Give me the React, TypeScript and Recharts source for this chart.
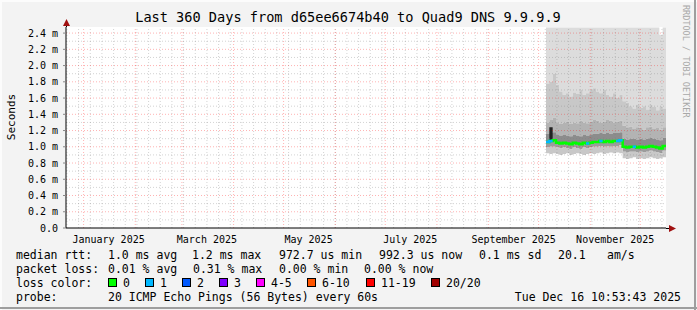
import React from 'react';
import { ComposedChart, Area, Line, XAxis, YAxis, ReferenceLine, CartesianGrid } from 'recharts';

// days since the graph start (Dec 21 2024 10:53)
const DAYS = [288, 290, 292, 294, 296, 298, 300, 302, 304, 306, 308, 310, 312, 314, 316, 318, 320, 322, 324, 326, 328, 330, 332, 334, 336, 338, 340, 342, 344, 346, 348, 350, 352, 354, 356, 358, 360];

// values in ms
const MEDIAN = [1.06, 1.07, 1.08, 1.05, 1.04, 1.05, 1.04, 1.03, 1.05, 1.04, 1.03, 1.05, 1.04, 1.05, 1.06, 1.06, 1.07, 1.06, 1.07, 1.06, 1.07, 1.07, 1.08, 1.0, 0.99, 1.0, 1.0, 0.99, 1.0, 0.99, 1.0, 1.01, 1.0, 0.99, 0.98, 1.01, 1.01];
const LOSS = [1, 1, 0, 0, 0, 0, 0, 0, 0, 0, 0, 0, 1, 0, 0, 0, 1, 0, 0, 0, 0, 1, 1, 0, 0, 0, 1, 0, 0, 0, 0, 0, 0, 0, 0, 0, 0];
const LO = [0.92, 0.91, 0.92, 0.91, 0.9, 0.91, 0.92, 0.9, 0.91, 0.92, 0.91, 0.9, 0.91, 0.92, 0.91, 0.92, 0.93, 0.91, 0.92, 0.93, 0.92, 0.93, 0.92, 0.86, 0.85, 0.86, 0.87, 0.85, 0.86, 0.85, 0.86, 0.87, 0.86, 0.85, 0.86, 0.87, 0.87];
const D1 = [0.99, 1.0, 1.0, 0.99, 0.98, 0.99, 0.98, 0.97, 0.99, 0.98, 0.97, 0.99, 0.98, 0.99, 1.0, 1.0, 1.01, 1.0, 1.01, 1.0, 1.01, 1.01, 1.02, 0.94, 0.93, 0.94, 0.94, 0.93, 0.94, 0.93, 0.94, 0.95, 0.94, 0.93, 0.92, 0.95, 0.95];
const U1 = [1.16, 1.17, 1.18, 1.15, 1.14, 1.15, 1.14, 1.13, 1.15, 1.14, 1.13, 1.15, 1.14, 1.15, 1.16, 1.16, 1.17, 1.16, 1.17, 1.16, 1.17, 1.17, 1.18, 1.1, 1.09, 1.1, 1.1, 1.09, 1.1, 1.09, 1.1, 1.11, 1.1, 1.09, 1.08, 1.11, 1.11];
const U2 = [1.3, 1.33, 1.36, 1.3, 1.28, 1.3, 1.31, 1.28, 1.3, 1.29, 1.32, 1.3, 1.29, 1.31, 1.33, 1.32, 1.3, 1.31, 1.33, 1.32, 1.3, 1.31, 1.32, 1.26, 1.24, 1.25, 1.22, 1.24, 1.23, 1.21, 1.24, 1.25, 1.22, 1.23, 1.21, 1.24, 1.24];
const U3 = [1.78, 1.8, 1.9, 1.76, 1.68, 1.64, 1.66, 1.62, 1.67, 1.65, 1.7, 1.64, 1.66, 1.7, 1.72, 1.68, 1.66, 1.7, 1.64, 1.62, 1.66, 1.6, 1.64, 1.56, 1.54, 1.5, 1.47, 1.52, 1.48, 1.5, 1.46, 1.52, 1.49, 1.45, 1.5, 1.47, 1.47];
const HI = [2.47, 2.47, 2.47, 2.47, 2.47, 2.47, 2.47, 2.47, 2.47, 2.47, 2.47, 2.47, 2.47, 2.47, 2.47, 2.47, 2.47, 2.47, 2.47, 2.47, 2.47, 2.47, 2.47, 2.47, 2.47, 2.47, 2.47, 2.47, 2.47, 2.47, 2.47, 2.47, 2.47, 2.47, 2.38, 2.47, 2.47];
const SPIKE = [null, 1.24, null, null, null, null, null, null, null, null, null, null, null, null, null, null, null, null, null, null, null, null, null, null, null, null, null, null, null, null, null, null, null, null, null, null, null];

const Y_TICKS = [0, 0.2, 0.4, 0.6, 0.8, 1.0, 1.2, 1.4, 1.6, 1.8, 2.0, 2.2, 2.4];
const Y_MINOR = [0.1, 0.3, 0.5, 0.7, 0.9, 1.1, 1.3, 1.5, 1.7, 1.9, 2.1, 2.3];
const MONTH_STARTS = [10.55, 41.55, 69.55, 100.55, 130.55, 161.55, 191.55, 222.55, 253.55, 283.55, 314.55, 344.55];
const LABEL_DAYS = [25.55, 84.55, 145.55, 206.55, 268.55, 329.55];
const LABELS = ['January 2025', 'March 2025', 'May 2025', 'July 2025', 'September 2025', 'November 2025'];
const WEEKS = Array.from({ length: 52 }, (_, k) => 0.55 + 7 * k);

const LOSS_COLORS = [
  { label: '0', color: '#00ff00', x: 108 },
  { label: '1', color: '#00b8ff', x: 145 },
  { label: '2', color: '#0059ff', x: 182 },
  { label: '3', color: '#7e00ff', x: 219 },
  { label: '4-5', color: '#ff00ff', x: 256 },
  { label: '6-10', color: '#ff5500', x: 307 },
  { label: '11-19', color: '#ff0000', x: 366 },
  { label: '20/20', color: '#a10000', x: 431 },
];

const FONT = '"DejaVu Sans Mono", monospace';
const minorStroke = 'rgba(128,128,128,0.35)';
const majorStroke = 'rgba(255,0,0,0.3)';

const App = () => {
  const rows = DAYS.map((day, i) => ({
    day,
    lo: [LO[i], D1[i]],
    core1: [D1[i], MEDIAN[i]],
    core2: [MEDIAN[i], U1[i]],
    mid: [U1[i], U2[i]],
    light: [U2[i], U3[i]],
    top: [U3[i], HI[i]],
    spike: [MEDIAN[i], SPIKE[i] ?? MEDIAN[i]],
    med: MEDIAN[i],
    medLoss: LOSS[i] ? MEDIAN[i] : i > 0 && LOSS[i - 1] ? MEDIAN[i - 1] : null,
  }));

  const txt = { fontFamily: FONT, fontSize: 11.5, fill: '#000' };

  return (
    <div style={{ position: 'absolute', left: 0, top: 0, width: 697, height: 310, background: '#f3f3f3' }}>
      <ComposedChart width={697} height={310} data={rows} margin={{ top: 27, right: 31, bottom: 62, left: 0 }}>
        <CartesianGrid fill="#fff" horizontal={false} vertical={false} />
        <XAxis
          type="number"
          dataKey="day"
          domain={[0, 360]}
          ticks={LABEL_DAYS}
          tickFormatter={(v) => LABELS[LABEL_DAYS.indexOf(v)]}
          tickLine={false}
          tickSize={6}
          tickMargin={2}
          height={20}
          axisLine={{ stroke: '#000' }}
          tick={{ fontFamily: FONT, fontSize: 10, fill: '#000' }}
          interval={0}
        />
        <YAxis
          type="number"
          domain={[0, 2.475]}
          allowDataOverflow
          ticks={Y_TICKS}
          tickFormatter={(v) => (v === 0 ? '0.0' : `${v.toFixed(1)} m`)}
          width={66}
          tickSize={3}
          tickMargin={5}
          tickLine={{ stroke: '#888' }}
          axisLine={{ stroke: '#000' }}
          tick={{ fontFamily: FONT, fontSize: 10, fill: '#000' }}
          interval={0}
        />
        <Area type="stepAfter" dataKey="top" fill="#dcdcdc" fillOpacity={1} stroke="none" isAnimationActive={false} />
        <Area type="stepAfter" dataKey="light" fill="#c8c8c8" fillOpacity={1} stroke="none" isAnimationActive={false} />
        <Area type="stepAfter" dataKey="mid" fill="#b3b3b3" fillOpacity={1} stroke="none" isAnimationActive={false} />
        <Area type="stepAfter" dataKey="core2" fill="#8c8c8c" fillOpacity={1} stroke="none" isAnimationActive={false} />
        <Area type="stepAfter" dataKey="core1" fill="#9c9c9c" fillOpacity={1} stroke="none" isAnimationActive={false} />
        <Area type="stepAfter" dataKey="lo" fill="#c8c8c8" fillOpacity={1} stroke="none" isAnimationActive={false} />
        <Area type="stepAfter" dataKey="spike" fill="#222" fillOpacity={1} stroke="none" isAnimationActive={false} />

        {WEEKS.map((d) => (
          <ReferenceLine key={'w' + d} x={d} stroke={minorStroke} strokeDasharray="1 2" />
        ))}
        {Y_MINOR.map((v) => (
          <ReferenceLine key={'ym' + v} y={v} stroke={minorStroke} strokeDasharray="1 2" />
        ))}
        {MONTH_STARTS.map((d) => (
          <ReferenceLine key={'m' + d} x={d} stroke={majorStroke} strokeDasharray="1 2" />
        ))}
        {Y_TICKS.slice(1).map((v) => (
          <ReferenceLine key={'y' + v} y={v} stroke={majorStroke} strokeDasharray="1 2" />
        ))}

        <Line type="stepAfter" dataKey="med" stroke="#00ff00" strokeWidth={2.5} dot={false} isAnimationActive={false} />
        <Line type="stepAfter" dataKey="medLoss" stroke="#00b8ff" strokeWidth={2.5} dot={false} isAnimationActive={false} />
      </ComposedChart>

      <svg width={697} height={310} style={{ position: 'absolute', left: 0, top: 0, pointerEvents: 'none' }}>
        <line x1={0} y1={1} x2={697} y2={1} stroke="#fcfcfc" strokeWidth={2} />
        <line x1={1} y1={0} x2={1} y2={310} stroke="#fcfcfc" strokeWidth={2} />
        <line x1={0} y1={308} x2={697} y2={308} stroke="#9e9e9e" strokeWidth={2} />
        <line x1={695} y1={0} x2={695} y2={310} stroke="#9e9e9e" strokeWidth={2} />

        <text x={348} y={22} textAnchor="middle" fontFamily={FONT} fontSize={13.6} fill="#000">
          Last 360 Days from d65ee6674b40 to Quad9 DNS 9.9.9.9
        </text>
        <text transform="translate(15,117) rotate(-90)" textAnchor="middle" fontFamily={FONT} fontSize={11} fill="#000">
          Seconds
        </text>
        <text transform="translate(683,5) rotate(90)" fontFamily={FONT} fontSize={8.5} fill="#a8a8a8">
          RRDTOOL / TOBI OETIKER
        </text>

        {/* axis extensions and arrows */}
        <line x1={66.5} y1={27} x2={66.5} y2={23} stroke="#000" />
        <polygon points="63,26 70,26 66.5,19" fill="#a01010" />
        <line x1={666} y1={228.5} x2={670} y2={228.5} stroke="#000" />
        <polygon points="669,225 669,232 676,228.5" fill="#a01010" />

        <text x={16} y={259} {...txt}>median rtt:</text>
        <text x={108} y={259} {...txt}>1.0 ms avg</text>
        <text x={192} y={259} {...txt}>1.2 ms max</text>
        <text x={279} y={259} {...txt}>972.7 us min</text>
        <text x={379} y={259} {...txt}>992.3 us now</text>
        <text x={479} y={259} {...txt}>0.1 ms sd</text>
        <text x={558} y={259} {...txt}>20.1</text>
        <text x={607} y={259} {...txt}>am/s</text>

        <text x={16} y={273} {...txt}>packet loss:</text>
        <text x={108} y={273} {...txt}>0.01 % avg</text>
        <text x={193} y={273} {...txt}>0.31 % max</text>
        <text x={279} y={273} {...txt}>0.00 % min</text>
        <text x={364} y={273} {...txt}>0.00 % now</text>

        <text x={16} y={287} {...txt}>loss color:</text>
        {LOSS_COLORS.map((c) => (
          <g key={c.label}>
            <rect x={c.x + 0.5} y={278.5} width={8} height={8} fill={c.color} stroke="#000" />
            <text x={c.x + 15} y={287} {...txt}>{c.label}</text>
          </g>
        ))}

        <text x={16} y={301} {...txt}>probe:</text>
        <text x={108} y={301} {...txt}>20 ICMP Echo Pings (56 Bytes) every 60s</text>
        <text x={681} y={301} textAnchor="end" {...txt}>Tue Dec 16 10:53:43 2025</text>
      </svg>
    </div>
  );
};

export default App;
